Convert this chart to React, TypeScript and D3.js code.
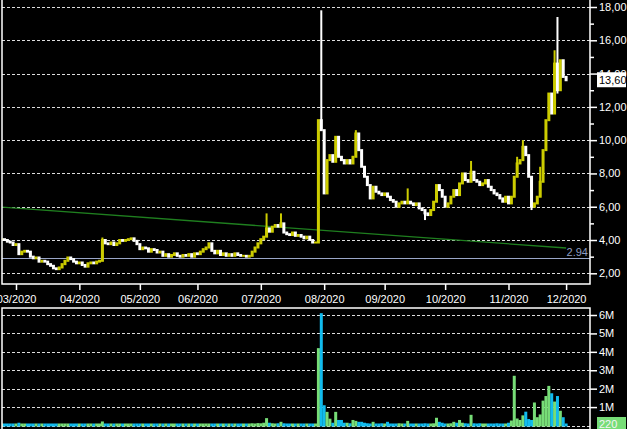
import * as d3 from "d3";
import { useEffect, useRef } from "react";

const W = 627;
const H = 429;

// trading-day index of the first session of each month
const monthIdx = [5, 27, 48, 68, 90, 112, 133, 154, 176, 196];
const monthLabels = ["03/2020", "04/2020", "05/2020", "06/2020", "07/2020", "08/2020", "09/2020", "10/2020", "11/2020", "12/2020"];

const priceTicks = [2, 4, 6, 8, 10, 12, 14, 16, 18];
const priceMinor = [3, 5, 7, 9, 11, 13, 15, 17];
const volTicks = [1, 2, 3, 4, 5, 6];

// daily closes, 24 Feb .. 1 Dec 2020
const close = [
  4.05, 4.0, 3.9, 3.85, 3.7, 3.75, 3.15, 3.3, 3.35, 3.3,
  3.0, 2.9, 2.95, 2.7, 2.75, 2.7, 2.55, 2.45, 2.3, 2.25,
  2.35, 2.55, 2.75, 2.95, 2.85, 2.7, 2.6, 2.65, 2.5, 2.4,
  2.6, 2.65, 2.6, 2.7, 2.75, 4.0, 3.8, 3.75, 3.85, 3.7,
  3.8, 4.0, 3.95, 4.0, 4.05, 4.1, 3.95, 3.75, 3.45, 3.55,
  3.5, 3.3, 3.45, 3.4, 3.25, 3.3, 3.05, 3.15, 3.0, 3.1,
  3.2, 3.05, 3.0, 3.1, 3.05, 3.15, 3.0, 3.2, 3.15, 3.3,
  3.45, 3.55, 3.8, 3.35, 3.2, 3.35, 3.1, 3.2, 3.05, 3.15,
  3.05, 3.2, 3.1, 3.05, 3.05, 3.0, 3.05, 3.3, 3.55, 3.8,
  4.05, 4.2, 4.7, 4.5, 4.8, 4.9, 4.8, 5.0, 4.45, 4.35,
  4.3, 4.45, 4.25, 4.3, 4.2, 4.1, 4.2, 4.0, 3.85, 3.85,
  11.2, 10.6, 6.8, 8.8, 9.1, 8.7, 10.2, 9.0, 8.8, 8.6,
  8.8, 8.6, 9.0, 10.4, 9.4, 8.4, 7.8, 7.3, 6.5, 7.2,
  6.9, 6.8, 6.7, 6.8, 6.6, 6.4, 6.3, 6.0, 6.2, 6.3,
  6.2, 6.3, 6.2, 6.1, 6.2, 5.9, 5.8, 5.6, 5.5, 5.8,
  6.3, 7.3, 7.0, 6.6, 6.0, 6.2, 6.6, 7.0, 6.7, 7.4,
  8.0, 7.6, 7.5, 8.1, 7.6, 7.5, 7.3, 7.4, 7.6, 7.2,
  7.0, 6.8, 6.7, 6.5, 6.3, 6.6, 6.2, 6.6, 7.8, 8.6,
  8.8, 9.6, 9.1, 7.8, 6.0, 6.2, 6.6, 7.5, 9.4, 11.2,
  12.8, 11.6, 14.6, 13.0, 14.8, 13.8, 13.6,
];

// days with visible high/low wicks
const wickIdx = [35, 92, 97, 111, 123, 141, 147, 163, 179, 181, 184, 187, 192, 193];
const wickHigh = [4.15, 5.6, 5.6, 17.8, 10.6, 7.1, 5.8, 8.75, 9.0, 10.0, 7.8, 8.4, 15.4, 17.4];
const wickLow = [2.75, 4.2, 4.8, 10.6, 9.0, 6.2, 5.2, 7.5, 7.8, 8.8, 5.8, 6.6, 11.6, 12.8];

// volume in millions
const volume = [
  0.08, 0.06, 0.05, 0.07, 0.05, 0.06, 0.15, 0.08, 0.06, 0.05,
  0.06, 0.05, 0.07, 0.04, 0.05, 0.06, 0.08, 0.05, 0.06, 0.05,
  0.07, 0.08, 0.06, 0.05, 0.06, 0.04, 0.05, 0.06, 0.05, 0.04,
  0.05, 0.06, 0.05, 0.06, 0.07, 0.22, 0.1, 0.06, 0.05, 0.06,
  0.05, 0.07, 0.05, 0.04, 0.06, 0.05, 0.07, 0.05, 0.06, 0.04,
  0.05, 0.06, 0.05, 0.04, 0.05, 0.06, 0.05, 0.04, 0.06, 0.05,
  0.04, 0.05, 0.06, 0.05, 0.04, 0.05, 0.06, 0.05, 0.04, 0.05,
  0.06, 0.07, 0.09, 0.06, 0.05, 0.06, 0.05, 0.04, 0.05, 0.06,
  0.05, 0.04, 0.05, 0.06, 0.05, 0.07, 0.08, 0.12, 0.1, 0.13,
  0.12, 0.15, 0.4, 0.15, 0.12, 0.1, 0.12, 0.2, 0.12, 0.1,
  0.08, 0.1, 0.09, 0.08, 0.1, 0.07, 0.06, 0.08, 0.07, 0.08,
  4.2, 6.1, 1.1, 0.74, 0.37, 0.15, 0.74, 0.3, 0.3, 0.15,
  0.15, 0.12, 0.3, 0.25, 0.2, 0.2, 0.15, 0.12, 0.1, 0.2,
  0.1, 0.08, 0.12, 0.1, 0.2, 0.08, 0.1, 0.08, 0.12, 0.1,
  0.08, 0.25, 0.1, 0.08, 0.1, 0.08, 0.1, 0.12, 0.08, 0.1,
  0.12, 0.42, 0.2, 0.15, 0.1, 0.08, 0.12, 0.2, 0.15, 0.3,
  0.15, 0.12, 0.1, 0.58, 0.12, 0.1, 0.12, 0.08, 0.1, 0.08,
  0.1, 0.08, 0.12, 0.1, 0.08, 0.1, 0.15, 0.27, 2.7, 0.38,
  0.3, 0.55, 0.75, 0.35, 0.3, 1.25, 0.45, 0.6, 1.35, 1.6,
  2.15, 1.75, 1.3, 1.6, 0.8, 0.45, 0.00022,
];

const trendStart = 5.98;
const trendEnd = 3.52;
const refLevel = 2.94;
const lastPrice = 13.6;
const lastVolume = "220";

const FONT = "'Liberation Sans', Arial, sans-serif";
const YELLOW = "#cccc00";
const GREEN_VOL = "#77dd77";
const CYAN_VOL = "#11bbee";

export default function App() {
  const ref = useRef<SVGSVGElement | null>(null);

  useEffect(() => {
    if (!ref.current) return;
    const svg = d3.select(ref.current);
    svg.selectAll("*").remove();

    const left = 2;
    const right = 590;
    const priceBottom = 284;
    const volTop = 308;

    const x = d3.scaleLinear().domain([5, 196]).range([16, 566.1]);
    const y = d3.scaleLinear().domain([2, 18]).range([273.3, 7]);
    const yv = d3.scaleLinear().domain([0, 6]).range([425.5, 315]);
    const comma = d3.formatLocale({ decimal: ",", thousands: ".", grouping: [3], currency: ["", ""] }).format(".2f");

    svg.append("rect").attr("width", W).attr("height", H).attr("fill", "#000");

    const defs = svg.append("defs");
    defs.append("clipPath").attr("id", "pclip").append("rect").attr("x", left).attr("y", 0).attr("width", right - left).attr("height", priceBottom);
    defs.append("clipPath").attr("id", "vclip").append("rect").attr("x", left).attr("y", volTop).attr("width", right - left).attr("height", H - volTop);

    // grid
    svg.append("g").selectAll("line").data(priceTicks).join("line")
      .attr("x1", left).attr("x2", right)
      .attr("y1", (d) => Math.round(y(d)) + 0.5).attr("y2", (d) => Math.round(y(d)) + 0.5)
      .attr("stroke", "#ddd").attr("stroke-dasharray", "3,2");
    svg.append("g").selectAll("line").data([0, ...volTicks]).join("line")
      .attr("x1", left).attr("x2", right)
      .attr("y1", (d) => Math.round(yv(d)) + 0.5).attr("y2", (d) => Math.round(yv(d)) + 0.5)
      .attr("stroke", "#ddd").attr("stroke-dasharray", "3,2");

    const pg = svg.append("g").attr("clip-path", "url(#pclip)");

    // reference level and trend line
    pg.append("line").attr("x1", left).attr("x2", right)
      .attr("y1", Math.round(y(refLevel)) + 0.5).attr("y2", Math.round(y(refLevel)) + 0.5)
      .attr("stroke", "#9aa6c8").attr("stroke-width", 1.2);
    pg.append("line").attr("x1", x(0)).attr("x2", x(close.length - 1))
      .attr("y1", y(trendStart)).attr("y2", y(trendEnd))
      .attr("stroke", "#1f7f1f").attr("stroke-width", 1.3);

    const up = close.map((c, i) => (i === 0 ? true : c >= close[i - 1]));
    const col = (i: number) => (up[i] ? YELLOW : "#ffffff");

    // wicks
    pg.selectAll("line.wick").data(wickIdx).join("line").attr("class", "wick")
      .attr("x1", (d) => x(d)).attr("x2", (d) => x(d))
      .attr("y1", (_d, k) => y(wickHigh[k])).attr("y2", (_d, k) => y(wickLow[k]))
      .attr("stroke", (d) => col(d)).attr("stroke-width", 2);

    // price bars (previous close -> close)
    pg.selectAll("rect.bar").data(close).join("rect").attr("class", "bar")
      .attr("x", (_d, i) => x(i) - 1.5)
      .attr("width", 3)
      .attr("y", (d, i) => {
        const p = i === 0 ? d : close[i - 1];
        return Math.min(y(d), y(p)) - 1;
      })
      .attr("height", (d, i) => {
        const p = i === 0 ? d : close[i - 1];
        return Math.abs(y(d) - y(p)) + 2;
      })
      .attr("fill", (_d, i) => col(i));

    // volume bars
    svg.append("g").attr("clip-path", "url(#vclip)")
      .selectAll("rect").data(volume).join("rect")
      .attr("x", (_d, i) => x(i) - 1.5)
      .attr("width", 3)
      .attr("y", (d) => Math.min(yv(d), yv(0) - 2))
      .attr("height", (d) => Math.max(yv(0) - yv(d), 2) + 1)
      .attr("fill", (_d, i) => (up[i] ? GREEN_VOL : CYAN_VOL));

    // frames
    const frame = svg.append("g").attr("stroke", "#fff").attr("fill", "none").attr("stroke-width", 1.5);
    frame.append("path").attr("d", `M${left},0V${priceBottom}H${right}V0`);
    frame.append("path").attr("d", `M${left},${H}V${volTop}H${right}V${H}`);

    // x axis
    const xa = svg.append("g").attr("transform", `translate(0,${priceBottom})`)
      .call(d3.axisBottom(x).tickValues(monthIdx).tickFormat((_d, k) => monthLabels[k]).tickSize(6).tickSizeOuter(0).tickPadding(5));
    xa.select(".domain").remove();

    // price axis
    const pa = svg.append("g").attr("transform", `translate(${right},0)`)
      .call(d3.axisRight(y).tickValues(priceTicks).tickFormat((d) => comma(d as number)).tickSize(7).tickSizeOuter(0).tickPadding(2));
    pa.select(".domain").remove();
    const pm = svg.append("g").attr("transform", `translate(${right},0)`)
      .call(d3.axisRight(y).tickValues(priceMinor).tickFormat(() => "").tickSize(4).tickSizeOuter(0));
    pm.select(".domain").remove();

    // volume axis
    const va = svg.append("g").attr("transform", `translate(${right},0)`)
      .call(d3.axisRight(yv).tickValues(volTicks).tickFormat((d) => `${d}M`).tickSize(7).tickSizeOuter(0).tickPadding(2));
    va.select(".domain").remove();

    svg.selectAll(".tick line").attr("stroke", "#fff").attr("stroke-width", 1.5);
    svg.selectAll(".tick text").attr("fill", "#fff").style("font-family", FONT).style("font-size", "11px");

    // reference level label
    svg.append("text").attr("x", 588).attr("y", y(refLevel) - 2)
      .attr("text-anchor", "end").attr("fill", "#8f9dc2")
      .style("font-family", FONT).style("font-size", "11px").text(String(refLevel));

    // last price box
    const ly = y(lastPrice);
    svg.append("rect").attr("x", 597).attr("y", ly - 8).attr("width", 29).attr("height", 15).attr("fill", "#fff");
    svg.append("text").attr("x", 599).attr("y", ly + 4).attr("fill", "#000")
      .style("font-family", FONT).style("font-size", "11px").text(comma(lastPrice));

    // last volume box
    svg.append("rect").attr("x", 597).attr("y", 417).attr("width", 29).attr("height", 13).attr("fill", GREEN_VOL);
    svg.append("text").attr("x", 599).attr("y", 428).attr("fill", "#f4f4f4")
      .style("font-family", FONT).style("font-size", "11px").text(lastVolume);
  }, []);

  return (
    <div style={{ position: "fixed", left: 0, top: 0, width: W, height: H, background: "#000" }}>
      <svg ref={ref} width={W} height={H} style={{ display: "block" }} />
    </div>
  );
}
